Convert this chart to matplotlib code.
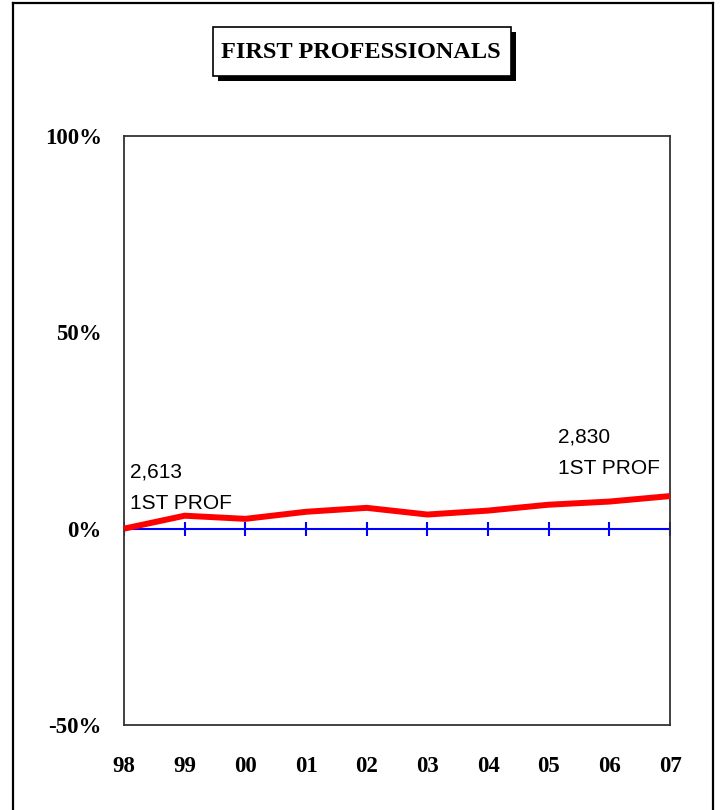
import matplotlib.pyplot as plt
from matplotlib.patches import Rectangle
from matplotlib.lines import Line2D

# percent change vs 1998 for first professional enrollment
years = ["98", "99", "00", "01", "02", "03", "04", "05", "06", "07"]
pct_change = [0.0, 3.3, 2.5, 4.3, 5.3, 3.6, 4.6, 6.1, 6.9, 8.3]
y_ticks = [-50, 0, 50, 100]
y_labels = ["-50%", "0%", "50%", "100%"]
first_label = "2,613\n1ST PROF"
last_label = "2,830\n1ST PROF"

W, H = 722, 810
fig = plt.figure(figsize=(W / 100, H / 100), dpi=100)
fig.patch.set_facecolor("white")

def fx(px):
    return px / W

def fy(py):
    return 1 - py / H

# outer frame (open at the bottom)
for xs, ys in [([13, 13], [3, 810]), ([13, 713], [3, 3]), ([713, 713], [3, 810])]:
    fig.add_artist(Line2D([fx(v) for v in xs], [fy(v) for v in ys], color="black", lw=1.6))

# title box with drop shadow
fig.add_artist(Rectangle((fx(218), fy(81)), fx(298), 49 / H, facecolor="black", edgecolor="none"))
fig.add_artist(Rectangle((fx(213), fy(76)), fx(298), 49 / H, facecolor="white", edgecolor="black", lw=1.2))
fig.text(fx(361), fy(52), "FIRST PROFESSIONALS", ha="center", va="center",
         fontsize=17.5, fontweight="bold", family="Liberation Serif")

ax = fig.add_axes([fx(124), fy(725), fx(546), (725 - 136) / H])
x = list(range(len(years)))
ax.axhline(0, color="#0000ff", lw=1.5, zorder=2)
ax.plot(x, [0] * len(x), ls="none", marker="|", color="#0000ff", ms=10, mew=1.5, zorder=2)
ax.plot(x, pct_change, color="#ff0000", lw=4.3, solid_capstyle="butt", zorder=3, clip_on=False)

ax.set_xlim(0, len(years) - 1)
ax.set_ylim(-50, 100)
ax.set_xticks(x)
ax.set_xticklabels(years)
ax.set_yticks(y_ticks)
ax.set_yticklabels(y_labels)
ax.tick_params(axis="both", length=0)
ax.tick_params(axis="y", pad=16)
ax.tick_params(axis="x", pad=22)
for lab in ax.get_xticklabels() + ax.get_yticklabels():
    lab.set_family("Liberation Serif")
    lab.set_fontweight("bold")
    lab.set_fontsize(16.5)
for sp in ax.spines.values():
    sp.set_color("#333333")
    sp.set_linewidth(1.3)

ax.text(0.1, 5.0, first_label, ha="left", va="baseline", fontsize=15,
        family="Liberation Sans", linespacing=1.85)
ax.text(7.15, 13.9, last_label, ha="left", va="baseline", fontsize=15,
        family="Liberation Sans", linespacing=1.85)

fig.savefig("out.png", dpi=100)
